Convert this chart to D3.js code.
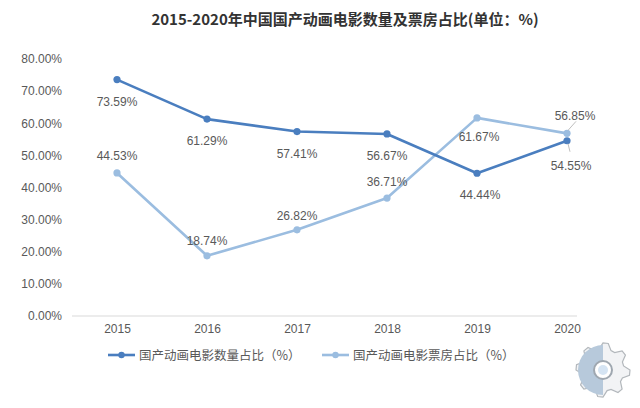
<!DOCTYPE html>
<html><head><meta charset="utf-8">
<script src="https://cdn.jsdelivr.net/npm/d3@7"></script>
<style>body{margin:0;background:#fff}svg{display:block}</style>
</head><body>
<script>
const years = ["2015","2016","2017","2018","2019","2020"];
const countShare = [73.59, 61.29, 57.41, 56.67, 44.44, 54.55];
const boxShare = [44.53, 18.74, 26.82, 36.71, 61.67, 56.85];
const yTicks = [0,10,20,30,40,50,60,70,80];
const seriesNames = ["国产动画电影数量占比（%）", "国产动画电影票房占比（%）"];
const title = "2015-2020年中国国产动画电影数量及票房占比(单位：%)";

const W = 640, H = 408;
const svg = d3.select("body").append("svg").attr("width", W).attr("height", H);
const font = "'Liberation Sans', Arial, 'Noto Sans CJK SC', sans-serif";
const cjk = "'Noto Sans CJK SC', sans-serif";

const x = d3.scalePoint().domain(years).range([117, 567]);
const y = d3.scaleLinear().domain([0, 80]).range([316, 59]);

svg.append("text").attr("x", 345).attr("y", 25).attr("text-anchor", "middle")
  .attr("font-family", cjk).attr("font-weight", "bold").attr("font-size", 15)
  .attr("fill", "#333").text(title);

// y axis labels
const yAxis = d3.axisLeft(y).tickValues(yTicks).tickSize(0).tickPadding(0)
  .tickFormat(d => d.toFixed(2) + "%");
const gy = svg.append("g").attr("transform", "translate(62,0)").call(yAxis);
gy.select(".domain").remove();
gy.selectAll("text").attr("font-family", font).attr("font-size", 12).attr("fill", "#595959");

// x axis
svg.append("line").attr("x1", 72).attr("x2", 577).attr("y1", y(0)).attr("y2", y(0))
  .attr("stroke", "#d9d9d9").attr("stroke-width", 1);
const xAxis = d3.axisBottom(x).tickSize(0).tickPadding(0);
const gx = svg.append("g").attr("transform", `translate(0,${y(0)+17})`).call(xAxis);
gx.select(".domain").remove();
gx.selectAll("text").attr("font-family", font).attr("font-size", 12).attr("fill", "#595959").attr("dy", 0);

const colors = ["#4a7ebf", "#9bbde0"];
const datasets = [countShare, boxShare];
const line = d3.line().x((d, i) => x(years[i])).y(d => y(d));

// draw light first, dark on top
[1, 0].forEach(s => {
  svg.append("path").datum(datasets[s]).attr("d", line).attr("fill", "none")
    .attr("stroke", colors[s]).attr("stroke-width", 2.6).attr("stroke-linejoin", "round");
  svg.selectAll(null).data(datasets[s]).enter().append("circle")
    .attr("cx", (d, i) => x(years[i])).attr("cy", d => y(d)).attr("r", 3.6)
    .attr("fill", colors[s]);
});

// data labels: offsets [dx, dy] relative to point
const countOff = [[0, 22], [0, 22], [0, 22], [0, 22], [3, 22], [4, 25]];
const boxOff = [[0, -17], [0, -15], [0, -14], [0, -16], [2, 19], [8, -17]];
function labels(data, off) {
  svg.selectAll(null).data(data).enter().append("text")
    .attr("x", (d, i) => x(years[i]) + off[i][0])
    .attr("y", (d, i) => y(d) + off[i][1] + 4)
    .attr("text-anchor", "middle").attr("font-family", font).attr("font-size", 12)
    .attr("fill", "#595959").text(d => d.toFixed(2) + "%");
}
labels(countShare, countOff);
labels(boxShare, boxOff);

// leader lines for 2020
const x20 = x("2020");
svg.append("line").attr("x1", x20 + 1).attr("y1", y(boxShare[5]) - 3).attr("x2", x20 + 9).attr("y2", y(boxShare[5]) - 12)
  .attr("stroke", "#bfbfbf").attr("stroke-width", 1);
svg.append("line").attr("x1", x20 + 1).attr("y1", y(countShare[5]) + 3).attr("x2", x20 + 3).attr("y2", y(countShare[5]) + 11)
  .attr("stroke", "#bfbfbf").attr("stroke-width", 1);

// legend
const legend = [[108, 0], [322, 1]];
legend.forEach(([lx, s]) => {
  const g = svg.append("g").attr("transform", `translate(${lx},355)`);
  g.append("line").attr("x1", 0).attr("x2", 27).attr("y1", 0).attr("y2", 0)
    .attr("stroke", colors[s]).attr("stroke-width", 2.6);
  g.append("circle").attr("cx", 13.5).attr("cy", 0).attr("r", 3.2).attr("fill", colors[s]);
  g.append("text").attr("x", 31).attr("y", 4.5).attr("font-family", cjk).attr("font-size", 12.5)
    .attr("fill", "#595959").text(seriesNames[s]);
});

// watermark gear (approximate)
const wm = svg.append("g").attr("transform", "translate(603,370)").attr("opacity", 0.75);
const teeth = 8, rOut = 27, rIn = 21;
const pts = [];
for (let i = 0; i < teeth * 4; i++) {
  const a = (i / (teeth * 4)) * 2 * Math.PI;
  const r = (i % 4 < 2) ? rOut : rIn;
  pts.push([r * Math.cos(a), r * Math.sin(a)]);
}
wm.append("path").attr("d", d3.line()(pts) + "Z").attr("fill", "#eef0f2").attr("stroke", "#9aa0a6").attr("stroke-width", 1.2);
wm.append("path").attr("d", d3.arc()({innerRadius: 0, outerRadius: 25, startAngle: Math.PI, endAngle: 2 * Math.PI}))
  .attr("fill", "#9fb8cf");
wm.append("circle").attr("r", 9).attr("fill", "#ffffff").attr("stroke", "#7f8a96").attr("stroke-width", 2);
wm.append("circle").attr("r", 5).attr("fill", "#c7dcef");
</script>
</body></html>
